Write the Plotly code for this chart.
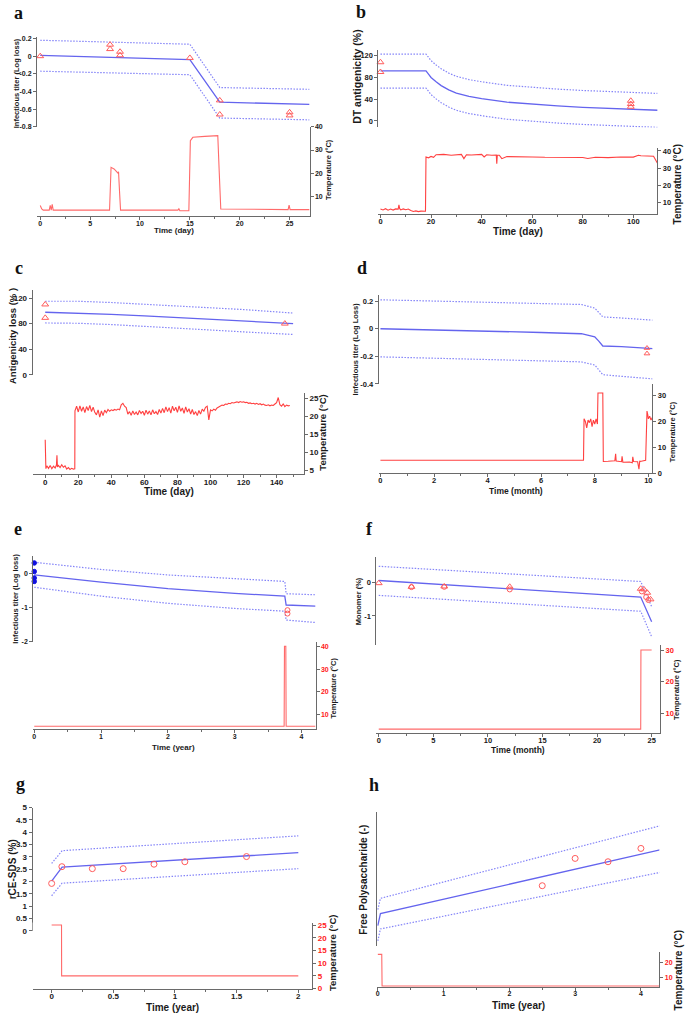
import plotly.graph_objects as go

W, H = 685, 1019

# ---------------- values ----------------
# a: infectious titer (log loss) vs time (day)
a_fit_t = [0, 15, 18, 27]
a_fit = [0.01, -0.04, -0.52, -0.545]
a_upper = [0.18, 0.135, -0.355, -0.375]
a_lower = [-0.17, -0.21, -0.70, -0.72]
a_obs_t = [0, 7, 7, 8, 8, 15, 18, 18, 25, 25]
a_obs = [0.0, 0.13, 0.08, 0.05, 0.01, -0.02, -0.50, -0.66, -0.635, -0.67]
a_temp_t = [0, 0.15, 0.3, 0.9, 1.0, 1.1, 1.2, 1.3, 2, 6.95, 7.1, 7.4, 7.8, 7.85, 7.95, 8.05,
            13.8, 13.9, 14.0, 14.9, 15.05, 15.3, 16.5, 17.8, 17.95, 18.1, 24.85, 24.95, 25.05, 27]
a_temp = [6, 4.5, 4, 4, 6, 4, 6.5, 4, 4, 4, 22.5, 21.8, 20, 20.6, 12, 4,
          4, 4.6, 3.7, 3.7, 34, 35.5, 35.9, 36.2, 20, 4.5, 4.2, 6.2, 4.2, 4.2]

# b: DT antigenicity (%) vs time (day)
b_fit_t = [0, 18, 19, 20, 22, 24, 27, 30, 35, 40, 50, 60, 70, 80, 90, 100, 110]
b_fit = [92, 92, 86, 80, 72, 65, 57, 51, 45, 41, 34.5, 30.5, 27.5, 25, 23, 21, 19.5]
b_upper = [123, 123, 117, 111, 103, 96, 88, 82, 76, 72, 65.5, 61.5, 58.5, 56, 54, 52, 50.5]
b_lower = [60.5, 60.5, 54.5, 48.5, 40.5, 33.5, 25.5, 19.5, 13.5, 9.5, 3, -1, -4, -6.5, -8.5, -10.5, -12]
b_obs_t = [0, 0, 99, 99, 99]
b_obs = [108, 90, 37, 31, 26]
b_temp_t = [0, 1, 2, 3, 4, 5, 6, 7, 7.3, 7.6, 8, 9, 10, 11, 12, 13, 14, 15, 16, 17, 17.8,
            18, 19, 20, 21, 22, 25, 28, 30, 32, 33, 34, 36, 38, 40, 41, 42, 44, 45.8, 46, 46.2,
            47, 48, 50, 55, 60, 65, 70, 75, 80, 82, 85, 90, 95, 100, 102, 103, 105, 108, 109.5]
b_temp = [6, 5.5, 6.2, 5.3, 6, 5.4, 6.1, 6, 8.5, 6.2, 5.5, 6.1, 5.6, 6, 5.2, 4.6, 4.9, 4.5, 4.8, 4.6, 4.7,
          36.5, 36, 36.8, 36.3, 37.8, 38, 37.5, 37.8, 38, 35.5, 37.8, 37.6, 37.9, 38, 36.5, 37.8, 37.5, 37.6, 32.5, 37.5,
          37.5, 35.5, 36.7, 36.8, 36.5, 36.3, 36.4, 36.3, 36.2, 35.6, 36.3, 36.1, 36.5, 36.4, 37.5, 37.2, 37, 36.9, 33]

# c: antigenicity loss (%) vs time (day)
c_fit_t = [0, 20, 40, 60, 80, 100, 120, 150]
c_fit = [97.8, 96.5, 94.3, 92, 89.5, 87, 84.5, 80]
c_upper = [115, 115, 113, 110.5, 108, 105, 102, 96.5]
c_lower = [81, 80.5, 78.5, 76, 73, 70, 67, 63]
c_obs_t = [0, 0, 145]
c_obs = [110, 89, 80]
c_temp_t = [0, 0.1, 0.4, 1, 2, 3, 4, 5, 6, 6.8, 7.1, 7.4, 8, 9, 10, 11, 12, 13, 14, 15, 16, 17, 17.9] + list(range(18, 149))
c_temp = [13.5, 6, 5.5, 6.3, 5.6, 6.4, 5.5, 6.2, 5.7, 6.5, 9.2, 6, 6.4, 5.8, 6.6, 5.9, 6.3, 5.4, 5.8, 5.3, 5.6, 5.4, 5.5,
          21.5, 22.8, 21.2, 22.9, 21.4, 22.6, 21.0, 22.7, 21.6, 23.0, 21.3, 22.5, 21.1,
          20.4, 21.8, 19.8, 21.5, 20.2, 21.7, 21.0, 21.9, 21.4, 21.8, 21.6, 21.9, 21.7, 22.0, 21.8,
          23.2, 23.6, 22.8, 22.4,
          20.6, 21.3, 20.3, 21.5, 20.5, 21.2, 20.4, 21.6, 20.8, 21.4, 20.3, 21.7, 20.6, 21.5, 20.4, 21.8, 20.7, 21.3, 20.5, 21.9, 20.9,
          22.2, 21.0, 22.6, 21.3, 22.4, 20.9, 22.8, 21.5, 22.5, 21.1, 22.9, 21.4, 22.3, 20.8, 22.6, 21.2, 22.1, 20.6, 21.9, 20.5,
          21.3, 20.2, 21.6, 20.6, 22.0, 21.4, 22.5, 22.8,
          19.0,
          21.8, 21.5, 22.0, 21.7, 22.3, 22.6, 22.9, 23.1, 23.0, 23.4, 23.3,
          23.6, 23.5, 23.8, 23.7, 23.9, 24.0, 23.8, 24.1, 23.9, 24.0, 23.8, 23.9, 23.6, 23.7, 23.5,
          23.6, 23.4, 23.6, 23.3, 23.5, 23.2, 23.4, 23.1, 23.0, 23.2, 22.9, 23.1, 23.0, 23.4, 23.8,
          25.2,
          23.2, 22.8, 23.4, 22.7, 23.1, 22.9, 23.0]

# d: infectious titer (log loss) vs time (month)
d_fit_t = [0, 2, 4, 6, 7.5, 8.0, 8.15, 8.3, 9, 10.2]
d_fit = [0, -0.008, -0.017, -0.027, -0.036, -0.058, -0.09, -0.125, -0.13, -0.145]
d_upper = [0.21, 0.2, 0.192, 0.184, 0.176, 0.15, 0.115, 0.086, 0.078, 0.062]
d_lower = [-0.204, -0.214, -0.224, -0.232, -0.24, -0.263, -0.30, -0.333, -0.345, -0.364]
d_obs_t = [9.95, 9.95]
d_obs = [-0.14, -0.18]
d_temp_t = [0, 7.58, 7.6, 7.65, 7.7, 7.75, 7.8, 7.85, 7.9, 7.95, 8.0, 8.05, 8.1, 8.12, 8.3, 8.32, 8.5, 8.75, 8.78,
            8.8, 9.0, 9.02, 9.05, 9.3, 9.4, 9.42, 9.45, 9.6, 9.65, 9.68, 9.7, 9.9, 9.95, 9.98, 10.0, 10.05, 10.1, 10.15]
d_temp = [5, 5, 21, 20, 17.5, 20.5, 19.5, 21, 18, 20.5, 19, 21, 19, 31, 31, 4.5, 4.6, 4.8, 7.5,
          4.7, 4.4, 6.5, 4.2, 4.3, 4.0, 6.3, 4.5, 4.4, 1.5, 4.8, 4.5, 5.0, 24, 22.5, 21, 22, 20.5, 21.5]

# e: infectious titer (log loss) vs time (year)
e_fit_t = [0, 0.5, 1, 2, 3, 3.75, 3.77, 4.21]
e_fit = [-0.05, -0.16, -0.26, -0.45, -0.59, -0.67, -0.93, -0.96]
e_upper = [0.32, 0.21, 0.11, -0.05, -0.17, -0.24, -0.6, -0.63]
e_lower = [-0.41, -0.55, -0.67, -0.88, -1.03, -1.11, -1.37, -1.44]
e_ref_t = [0, 0, 0, 0]
e_ref = [0.3, 0.05, -0.14, -0.24]
e_obs_t = [3.79, 3.79]
e_obs = [-1.08, -1.18]
e_temp_t = [0, 3.74, 3.745, 3.765, 3.77, 4.21]
e_temp = [5, 5, 40, 40, 5, 5]

# f: monomer (%) vs time (month)
f_fit_t = [0, 24, 25]
f_fit = [0.07, -0.43, -1.18]
f_upper = [0.5, 0.04, -0.72]
f_lower = [-0.38, -0.86, -1.63]
f_tri_t = [0, 3, 6, 12, 24, 24.3, 24.6, 24.9]
f_tri = [-0.01, -0.12, -0.11, -0.12, -0.18, -0.2, -0.3, -0.5]
f_circ_t = [3, 6, 12, 24.1, 24.5, 24.7]
f_circ = [-0.13, -0.12, -0.2, -0.26, -0.43, -0.52]
f_temp_t = [0, 24, 24.02, 25]
f_temp = [5, 5, 30, 30]

# g: rCE-SDS (%) vs time (year)
g_fit_t = [0, 0.085, 2]
g_fit = [2.01, 2.58, 3.17]
g_upper = [2.73, 3.25, 3.85]
g_lower = [1.42, 1.93, 2.52]
g_obs_t = [0, 0.083, 0.33, 0.58, 0.83, 1.08, 1.58]
g_obs = [1.92, 2.6, 2.52, 2.52, 2.7, 2.8, 3.01]
g_temp_t = [0, 0.08, 0.081, 2.0]
g_temp = [25, 25, 5, 5]

# h: free polysaccharide (arbitrary units) vs time (year)
h_fit_t = [0, 0.04, 4.29]
h_fit = [1.5, 2.4, 7.2]
h_upper = [2.7, 3.55, 9.0]
h_lower = [0.35, 1.25, 5.5]
h_obs_t = [2.5, 3.0, 3.5, 4.0]
h_obs = [4.5, 6.55, 6.3, 7.3]
h_temp_t = [0, 0.06, 0.065, 4.29]
h_temp = [25, 25, 4.6, 4.6]

# tick values
a_xticks, a_yticks, a_tticks = [0, 5, 10, 15, 20, 25], [-0.8, -0.6, -0.4, -0.2, 0, 0.2], [10, 20, 30, 40]
b_xticks, b_yticks, b_tticks = [0, 20, 40, 60, 80, 100], [0, 40, 80, 120], [10, 20, 30, 40]
c_xticks, c_yticks, c_tticks = [0, 20, 40, 60, 80, 100, 120, 140], [0, 40, 80, 120], [5, 10, 15, 20, 25]
d_xticks, d_yticks, d_tticks = [0, 2, 4, 6, 8, 10], [-0.4, -0.2, 0, 0.2], [0, 10, 20, 30]
e_xticks, e_yticks, e_tticks = [0, 1, 2, 3, 4], [-2, -1, 0], [10, 20, 30, 40]
f_xticks, f_yticks, f_tticks = [0, 5, 10, 15, 20, 25], [-1, 0], [10, 20, 30]
g_xticks, g_yticks, g_tticks = [0, 0.5, 1, 1.5, 2], [0, 0.5, 1, 1.5, 2, 2.5, 3, 3.5, 4, 4.5, 5], [0, 5, 10, 15, 20, 25]
h_xticks, h_yticks, h_tticks = [0, 1, 2, 3, 4], [], [10, 20]

BLUE = '#6464ee'
BLUE_D = '#8484f8'
RED = '#ff4040'
RED_L = '#ff6a6a'
MK = '#ff5c5c'
AX = '#6a6a6a'
TXT = '#1a1a1a'
TRED = '#ff2020'
DOT = '1.5px,1.5px'

tri = 'triangle-up-open'
circ = 'circle-open'

panels = [
    dict(lab='a', lab_xy=(18, 9), x=(36, 309), xr=[-0.33, 27], top=(33, 124), topr=[-0.8, 0.22],
         tmp=(124, 214), tmpr=[1.4, 40], xt=a_xticks, xm=2.5, yt=a_yticks, tt=a_tticks, fs=7, tcol=TXT,
         ytl='Infectious titer (Log loss)', ytl_xy=(15, 80), yts=7.5, xtl='Time (day)', xtl_xy=(173, 229), xts=8,
         ttl_xy=(328, 167), tts=7.5, temp_col=RED_L,
         fit=(a_fit_t, a_fit, a_upper, a_lower), temp=(a_temp_t, a_temp),
         marks=[(a_obs_t, a_obs, tri, MK, 6)]),
    dict(lab='b', lab_xy=(361, 8), x=(378, 657.3), xr=[-0.8, 109.5], top=(46.7, 124.5), topr=[-12, 130],
         tmp=(145, 211.7), tmpr=[3.2, 41.9], xt=b_xticks, xm=10, yt=b_yticks, tt=b_tticks, fs=7.5, tcol=TXT,
         ytl='DT antigenicity (%)', ytl_xy=(357, 73), yts=10.5, xtl='Time (day)', xtl_xy=(518, 230), xts=10,
         ttl_xy=(677, 182), tts=10, temp_col=RED,
         fit=(b_fit_t, b_fit, b_upper, b_lower), temp=(b_temp_t, b_temp),
         marks=[(b_obs_t, b_obs, tri, MK, 6)]),
    dict(lab='c', lab_xy=(18, 266), x=(31.7, 303.3), xr=[-7.6, 156.5], top=(288.3, 374), topr=[0, 133],
         tmp=(392.3, 474.3), tmpr=[4, 26.5], xt=c_xticks, xm=10, yt=c_yticks, tt=c_tticks, fs=8, tcol=TXT,
         ytl='Antigenicity loss (% )', ytl_xy=(11, 335), yts=9.5, xtl='Time (day)', xtl_xy=(168, 492), xts=10,
         ttl_xy=(322, 433), tts=9.5, temp_col=RED,
         fit=(c_fit_t, c_fit, c_upper, c_lower), temp=(c_temp_t, c_temp),
         marks=[(c_obs_t, c_obs, tri, MK, 6)]),
    dict(lab='d', lab_xy=(362, 266), x=(378.3, 652.3), xr=[-0.063, 10.15], top=(293.3, 383.3), topr=[-0.4, 0.247],
         tmp=(383.3, 473.3), tmpr=[0, 34.5], xt=d_xticks, xm=1, yt=d_yticks, tt=d_tticks, fs=7.5, tcol=TXT,
         ytl='Infectious titer (Log Loss)', ytl_xy=(355, 348), yts=7.5, xtl='Time (month)', xtl_xy=(516, 491), xts=8.5,
         ttl_xy=(672, 432), tts=7.5, temp_col=RED,
         fit=(d_fit_t, d_fit, d_upper, d_lower), temp=(d_temp_t, d_temp),
         marks=[(d_obs_t, d_obs, tri, MK, 5)]),
    dict(lab='e', lab_xy=(17, 530), x=(32.3, 315), xr=[-0.015, 4.21], top=(556.7, 643.3), topr=[-2, 0.51],
         tmp=(643.3, 731.7), tmpr=[3.7, 42], xt=e_xticks, xm=0.5, yt=e_yticks, tt=e_tticks, fs=7, tcol=TRED,
         ytl='Infectious titer (Log loss)', ytl_xy=(15, 600), yts=7.5, xtl='Time (year)', xtl_xy=(173, 750), xts=8,
         ttl_xy=(333, 690), tts=7.5, temp_col=RED_L,
         fit=(e_fit_t, e_fit, e_upper, e_lower), temp=(e_temp_t, e_temp),
         marks=[(e_ref_t, e_ref, 'circle', '#1010e0', 4.5), (e_obs_t, e_obs, circ, MK, 5)]),
    dict(lab='f', lab_xy=(369, 530), x=(376, 660), xr=[-0.21, 25.77], top=(558.3, 646.7), topr=[-1.88, 0.77],
         tmp=(646.7, 736), tmpr=[3.6, 31.6], xt=f_xticks, xm=2.5, yt=f_yticks, tt=f_tticks, fs=7.5, tcol=TRED,
         ytl='Monomer (%)', ytl_xy=(358, 602), yts=7.5, xtl='Time (month)', xtl_xy=(518, 753), xts=8.5,
         ttl_xy=(677, 692), tts=7.5, temp_col=RED_L,
         fit=(f_fit_t, f_fit, f_upper, f_lower), temp=(f_temp_t, f_temp),
         marks=[(f_tri_t, f_tri, tri, MK, 6), (f_circ_t, f_circ, circ, MK, 5)]),
    dict(lab='g', lab_xy=(20, 787), x=(31.7, 311.7), xr=[-0.154, 2.113], top=(810.7, 935), topr=[0, 5],
         tmp=(926.7, 993.3), tmpr=[0, 26], xt=g_xticks, xm=0.25, yt=g_yticks, tt=g_tticks, fs=8, tcol=TRED,
         ytl='rCE-SDS (%)', ytl_xy=(11, 873), yts=10, xtl='Time (year)', xtl_xy=(172, 1012), xts=10,
         ttl_xy=(332, 958), tts=9.5, temp_col=RED_L,
         fit=(g_fit_t, g_fit, g_upper, g_lower), temp=(g_temp_t, g_temp),
         marks=[(g_obs_t, g_obs, circ, MK, 6)]),
    dict(lab='h', lab_xy=(374, 788), x=(376.7, 659.3), xr=[-0.01, 4.28], top=(815.7, 950), topr=[0, 10],
         tmp=(956.7, 991.7), tmpr=[4, 26.4], xt=h_xticks, xm=0.5, yt=h_yticks, tt=h_tticks, fs=7, tcol=TRED,
         ytl='Free Polysaccharide (-)', ytl_xy=(363, 883), yts=10, xtl='Time (year)', xtl_xy=(518, 1010), xts=10,
         ttl_xy=(678, 975), tts=10, temp_col=RED_L,
         fit=(h_fit_t, h_fit, h_upper, h_lower), temp=(h_temp_t, h_temp),
         marks=[(h_obs_t, h_obs, circ, MK, 6)]),
]


def fx(v):
    return v / W


def fy(v):
    return 1 - v / H


def ref(kind, i):
    return kind if i == 1 else '%s%d' % (kind, i)


def labels(vals):
    return ['%g' % v for v in vals]


def axis_base(size, color=TXT):
    return dict(showline=True, linecolor=AX, linewidth=1, ticks='outside', ticklen=3, tickcolor=AX,
                tickfont=dict(family='Liberation Sans', size=size, color=color, weight='bold'),
                showgrid=False, zeroline=False, fixedrange=True)


fig = go.Figure()
layout = {}
ann = []

for k, p in enumerate(panels, start=1):
    xr, yt_id, yb_id = ref('x', k), ref('y', 2 * k - 1), ref('y', 2 * k)
    xa, ya_top, ya_bot = ref('xaxis', k), ref('yaxis', 2 * k - 1), ref('yaxis', 2 * k)

    ax = axis_base(p['fs'])
    ax.update(domain=[fx(p['x'][0]), fx(p['x'][1])], range=p['xr'], anchor=yb_id,
              tickvals=p['xt'], ticktext=labels(p['xt']), ticklabelstandoff=-3,
              minor=dict(ticks='outside', ticklen=2, tickcolor=AX, dtick=p['xm'], tick0=0))
    layout[xa] = ax

    at = axis_base(p['fs'])
    at.update(domain=[fy(p['top'][1]), fy(p['top'][0])], range=p['topr'], anchor=xr, side='left')
    if p['yt']:
        at.update(tickvals=p['yt'], ticktext=labels(p['yt']))
    else:
        at.update(ticks='', showticklabels=False)
    layout[ya_top] = at

    ab = axis_base(p['fs'], p['tcol'])
    ab.update(domain=[fy(p['tmp'][1]), fy(p['tmp'][0])], range=p['tmpr'], anchor=xr, side='right',
              tickvals=p['tt'], ticktext=labels(p['tt']))
    layout[ya_bot] = ab

    ft, fv, fu, fl = p['fit']
    for yy, dash, col, wd in ((fu, DOT, BLUE_D, 1.2), (fl, DOT, BLUE_D, 1.2), (fv, 'solid', BLUE, 1.3)):
        fig.add_trace(go.Scatter(x=ft, y=yy, mode='lines', xaxis=xr, yaxis=yt_id,
                                 line=dict(color=col, width=wd, dash=dash), hoverinfo='skip'))
    for mt, mv, sym, col, sz in p['marks']:
        fig.add_trace(go.Scatter(x=mt, y=mv, mode='markers', xaxis=xr, yaxis=yt_id, cliponaxis=False,
                                 marker=dict(symbol=sym, size=sz, color=col, line=dict(color=col, width=1))))
    tt, tv = p['temp']
    fig.add_trace(go.Scatter(x=tt, y=tv, mode='lines', xaxis=xr, yaxis=yb_id,
                             line=dict(color=p['temp_col'], width=1.1), hoverinfo='skip'))

    ann.append(dict(text='<b>%s</b>' % p['lab'], x=fx(p['lab_xy'][0]), y=fy(p['lab_xy'][1]),
                    font=dict(family='Liberation Serif', size=18, color='#111')))
    ann.append(dict(text='<b>%s</b>' % p['ytl'], x=fx(p['ytl_xy'][0]), y=fy(p['ytl_xy'][1]), textangle=-90,
                    font=dict(family='Liberation Sans', size=p['yts'], color=TXT)))
    ann.append(dict(text='<b>%s</b>' % p['xtl'], x=fx(p['xtl_xy'][0]), y=fy(p['xtl_xy'][1]),
                    font=dict(family='Liberation Sans', size=p['xts'], color=TXT)))
    ann.append(dict(text='<b>Temperature (°C)</b>', x=fx(p['ttl_xy'][0]), y=fy(p['ttl_xy'][1]), textangle=-90,
                    font=dict(family='Liberation Sans', size=p['tts'], color=TXT)))

for a in ann:
    a.update(xref='paper', yref='paper', showarrow=False, xanchor='center', yanchor='middle')

fig.update_layout(width=W, height=H, margin=dict(l=0, r=0, t=0, b=0), showlegend=False,
                  plot_bgcolor='white', paper_bgcolor='white', annotations=ann, **layout)

# drop the browser's default 8 px body margin so the figure sits at the page corner
fig.write_html("out.html", config={'displayModeBar': False},
               post_script="document.body.style.margin='0';")
